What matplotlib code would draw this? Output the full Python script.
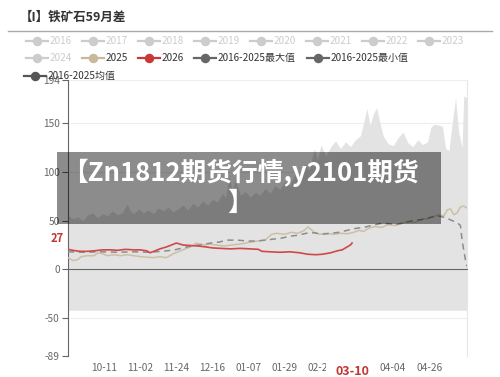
# -*- coding: utf-8 -*-
import numpy as np
import matplotlib
matplotlib.use("Agg")
import matplotlib.pyplot as plt
from matplotlib.lines import Line2D
from matplotlib.patches import Rectangle

plt.rcParams['font.family'] = ['Noto Sans CJK SC', 'DejaVu Sans']

# ---- data (x = days from start of the season window) ----
tick_days = [22, 44, 66, 88, 110, 132, 154, 176, 198, 220]
tick_labels = ['10-11', '11-02', '11-24', '12-16', '01-07', '01-29', '02-20', '03-14', '04-04', '04-26']
y_ticks = [-89, -50, 0, 50, 100, 150, 194]

# 2016-2025 max envelope
max_days = [0, 3, 6, 9, 12, 15, 18, 21, 24, 27, 30, 33, 36, 38, 40, 43, 46, 49, 52, 55,
            58, 61, 64, 67, 70, 73, 76, 79, 82, 85, 88, 91, 94, 96, 98, 100, 102, 105, 108, 111,
            114, 117, 120, 123, 126, 129, 132, 135, 138, 141, 144, 147, 150, 152, 154, 157, 160, 163, 166, 169,
            172, 175, 178, 180, 182, 184, 186, 188, 190, 192, 195, 198, 201, 204, 207, 210, 213, 216, 219, 221,
            223, 226, 228, 230, 232, 234, 236, 238, 240, 241, 243]
max_vals = [55, 52, 54, 50, 56, 58, 53, 57, 55, 60, 56, 58, 67, 60, 57, 62, 58, 61, 57, 63,
            60, 64, 59, 62, 66, 61, 68, 64, 70, 66, 72, 69, 78, 74, 96, 82, 92, 76, 80, 74,
            79, 76, 83, 78, 86, 82, 90, 86, 97, 92, 108, 102, 124, 112, 128, 116, 126, 132, 124, 131,
            126, 133, 137, 150, 165, 148, 160, 166, 150, 137, 129, 127, 135, 141, 130, 126, 133, 128, 131, 146,
            149, 148, 147, 124, 122, 150, 176, 140, 125, 178, 176]
# 2016-2025 min envelope (flat)
band_min = -42

# 2026
y2026_days = [0, 3, 7, 12, 16, 21, 26, 30, 35, 40, 44, 48, 50, 53, 56, 60, 63, 66, 70, 74,
              79, 84, 88, 93, 99, 105, 111, 116, 118, 123, 129, 135, 141, 146, 151, 155, 160, 164, 167, 169,
              172, 173]
y2026_vals = [20.5, 19.5, 18.5, 18.5, 19, 20, 20, 19.5, 20.5, 20, 20, 19, 17, 19, 21, 23, 25, 27, 25, 24.5,
              24, 23, 22, 21.5, 21, 21.5, 21, 20.5, 18.5, 18, 17.5, 18, 17, 15.5, 15, 15.5, 17, 19, 20, 22,
              25, 27]

# 2025
y2025_days = [0, 3, 6, 8, 12, 16, 18, 21, 24, 28, 32, 36, 40, 44, 48, 52, 56, 60, 62, 64,
              67, 70, 73, 76, 78, 80, 83, 86, 90, 95, 100, 105, 110, 115, 120, 122, 124, 127, 132, 136,
              140, 144, 146, 148, 150, 153, 157, 162, 166, 170, 174, 177, 180, 183, 187, 191, 195, 199, 203, 207,
              211, 215, 219, 222, 226, 229, 231, 233, 235, 237, 239, 241, 243]
y2025_vals = [12, 9, 10, 13, 14, 14, 17, 16, 14, 15, 14, 15, 14, 13, 12.5, 12, 13, 12, 14, 16,
              18, 20, 22, 24, 27, 26, 25, 26, 25, 24, 25, 26, 27.5, 29, 30, 33, 36, 37, 36, 38,
              37, 40, 43.5, 41, 38, 36, 37, 36, 37, 36.5, 38, 40, 39, 42, 44, 43, 46, 45, 47, 49,
              48, 51, 52, 54, 56, 55, 61, 62, 56, 58, 64, 65, 63]

# 2016-2025 mean
mean_days = [0, 10, 20, 30, 40, 50, 60, 65, 70, 75, 80, 87, 92, 97, 103, 110, 115, 120, 125, 130,
             135, 140, 145, 150, 155, 160, 165, 170, 175, 180, 185, 190, 195, 200, 205, 210, 215, 220, 225, 230,
             234, 237, 239, 240, 242, 243]
mean_vals = [18, 17.5, 18, 17.5, 18, 17.5, 19, 20, 22, 24, 25, 27, 28, 30, 30, 29, 29, 30, 31, 32,
             34, 35, 37, 37.5, 36, 37, 38, 40, 42, 43, 45, 47, 47, 46, 48, 50, 51, 53, 55, 53,
             50, 48, 45, 30, 10, 3]

current_day = 173
current_label = '03-10'
current_value = 27

legend_rows = [
    [('2016', '#cccccc', '#cccccc'), ('2017', '#cccccc', '#cccccc'), ('2018', '#cccccc', '#cccccc'),
     ('2019', '#cccccc', '#cccccc'), ('2020', '#cccccc', '#cccccc'), ('2021', '#cccccc', '#cccccc'),
     ('2022', '#cccccc', '#cccccc'), ('2023', '#cccccc', '#cccccc')],
    [('2024', '#cccccc', '#cccccc'), ('2025', '#c9b99c', '#333333'), ('2026', '#c8383a', '#333333'),
     ('2016-2025最大值', '#666666', '#333333'), ('2016-2025最小值', '#666666', '#333333')],
    [('2016-2025均值', '#555555', '#333333')],
]
legend_x = [[37, 93, 149, 205, 261, 317, 373, 429], [37, 93, 149, 205, 318], [35]]
legend_y = [41, 58, 76]

W, H = 500, 377


def fx(px):
    return px / W


def fy(py):
    return 1 - py / H


def main():
    fig = plt.figure(figsize=(5, 3.77), dpi=100)
    ax = fig.add_axes([fx(68), fy(356), fx(467) - fx(68), fy(80.4) - fy(356)])

    ax.fill_between(max_days, band_min, max_vals, color='#e3e3e3', lw=0, zorder=1)
    ax.plot(y2025_days, y2025_vals, color='#cdbfa5', lw=1.1, zorder=3)
    ax.plot(mean_days, mean_vals, color='#8c8c8c', lw=1.1, ls=(0, (4, 3)), zorder=4)
    ax.plot(y2026_days, y2026_vals, color='#d04848', lw=1.2, zorder=5)

    ax.set_xlim(0, 243)
    ax.set_ylim(-89, 194)
    ax.set_yticks(y_ticks)
    ax.set_yticklabels([str(v) for v in y_ticks])
    ax.tick_params(axis='y', length=4, color='#666666', labelcolor='#666666', labelsize=7.3, pad=2)
    ax.set_axisbelow(True)
    ax.grid(axis='y', color='#eeeeee', lw=0.8)

    ax.spines['top'].set_visible(False)
    ax.spines['right'].set_color('#e6e6e6')
    ax.spines['left'].set_color('#666666')
    ax.spines['bottom'].set_position(('data', 0))
    ax.spines['bottom'].set_color('#666666')
    ax.set_xticks(tick_days)
    ax.tick_params(axis='x', direction='out', length=4, color='#666666', labelbottom=False)

    sec = ax.secondary_xaxis('bottom')
    sec.set_xticks(tick_days, tick_labels)
    sec.tick_params(length=0, labelsize=7.3, colors='#666666', pad=5)
    sec.spines['bottom'].set_visible(False)

    # current-date / current-value labels
    ax.annotate(current_label, xy=(current_day, 0), xycoords=('data', 'axes fraction'),
                xytext=(0, -11), textcoords='offset points', ha='center', va='center',
                color='#c23531', fontsize=9, fontweight='bold',
                bbox=dict(boxstyle='square,pad=0.75', fc='white', ec='none'), zorder=10,
                annotation_clip=False)
    ax.annotate(str(current_value), xy=(0, current_value), xycoords=('axes fraction', 'data'),
                xytext=(-3, 3), textcoords='offset points', ha='right', va='center',
                color='#c23531', fontsize=8, fontweight='bold',
                bbox=dict(boxstyle='square,pad=0.2', fc='white', ec='none'), zorder=10,
                annotation_clip=False)

    # title + separator
    fig.text(fx(20), fy(17), '【I】铁矿石59月差', fontsize=9, fontweight='bold', color='#333333',
             va='center', ha='left')
    fig.add_artist(Line2D([fx(8), fx(492)], [fy(31), fy(31)], color='#aaaaaa', lw=1,
                          transform=fig.transFigure))

    # legend
    for row, xs, py in zip(legend_rows, legend_x, legend_y):
        for (label, mcol, tcol), px in zip(row, xs):
            fig.add_artist(Line2D([fx(px - 11), fx(px + 11)], [fy(py), fy(py)], color=mcol, lw=1.6,
                                  transform=fig.transFigure))
            fig.add_artist(Line2D([fx(px)], [fy(py)], color=mcol, marker='o', markersize=5.8,
                                  transform=fig.transFigure))
            fig.text(fx(px + 13), fy(py), label, fontsize=7.2, color=tcol, va='center', ha='left')

    # overlay banner
    fig.add_artist(Rectangle((fx(57), fy(224)), fx(441) - fx(57), fy(152) - fy(224),
                             transform=fig.transFigure, color='black', alpha=0.45, lw=0, zorder=20))
    fig.text(fx(240), fy(188), '【Zn1812期货行情,y2101期货\n】', fontsize=18.5, fontweight='bold',
             color='white', ha='center', va='center', multialignment='center', linespacing=1.15,
             zorder=21)

    fig.savefig('out.png', dpi=100)


if __name__ == '__main__':
    main()
